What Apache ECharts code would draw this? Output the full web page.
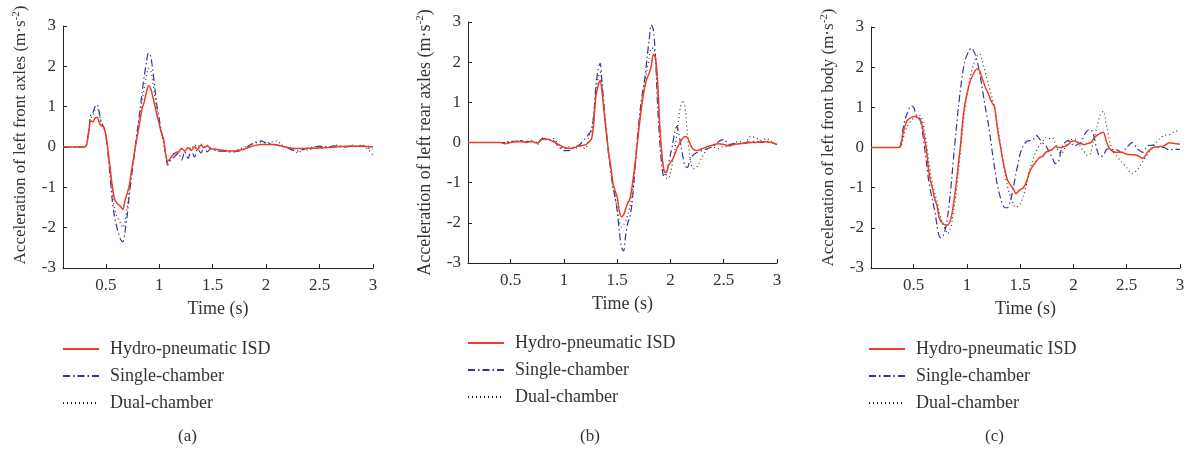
<!DOCTYPE html>
<html><head><meta charset="utf-8">
<script src="https://cdn.jsdelivr.net/npm/echarts@6/dist/echarts.min.js"></script>
<style>html,body{margin:0;padding:0;background:#fff}#c{width:1194px;height:453px}</style>
</head><body><div id="c"></div>
<script>
// ---------- Panel (a) ----------
const tA = [0.1,0.2,0.3,
 0.32,0.34,0.36,0.38,0.40,0.42,0.44,0.46,0.48,0.50,
 0.52,0.54,0.56,0.58,0.60,0.62,0.64,0.66,0.68,0.70,
 0.72,0.74,0.76,0.78,0.80,0.82,0.84,0.86,0.88,0.90,
 0.92,0.94,0.96,0.98,1.00,1.02,1.04,1.06,1.08,1.10,
 1.12,1.15,1.18,1.21,1.24,1.27,1.30,1.33,1.36,1.39,
 1.42,1.45,1.48,1.52,1.56,1.60,1.65,1.70,1.75,1.80,
 1.85,1.9,1.95,2.0,2.05,2.1,2.15,2.2,2.25,2.3,
 2.35,2.4,2.45,2.5,2.55,2.6,2.65,2.7,2.75,2.8,
 2.85,2.9,2.95,3.0];
const hydroA = [0,0,0,
 0.05,0.35,0.65,0.62,0.72,0.74,0.6,0.52,0.5,0.3,
 -0.05,-0.5,-0.95,-1.27,-1.38,-1.43,-1.48,-1.55,-1.33,-1.15,
 -0.95,-0.6,-0.28,0.05,0.35,0.65,0.95,1.12,1.35,1.52,
 1.45,1.25,1.02,0.78,0.58,0.35,0.2,-0.17,-0.35,-0.3,
 -0.22,-0.15,-0.12,-0.03,-0.1,-0.02,-0.08,0.0,-0.06,0.05,
 -0.02,0.03,-0.04,-0.05,-0.07,-0.08,-0.1,-0.1,-0.08,-0.05,
 0.0,0.04,0.06,0.06,0.06,0.05,0.02,-0.01,-0.03,-0.04,
 -0.04,-0.03,-0.03,-0.02,-0.02,-0.01,0.0,0.01,0.02,0.02,
 0.02,0.02,0.01,0.0];
const singleA = [0,0,0,
 0.05,0.4,0.8,0.85,1.0,1.05,0.85,0.6,0.5,0.3,
 -0.15,-0.7,-1.3,-1.7,-1.95,-2.15,-2.3,-2.35,-2.1,-1.7,
 -1.2,-0.75,-0.35,0.1,0.5,0.9,1.35,1.75,2.1,2.33,
 2.25,1.9,1.45,1.0,0.7,0.4,0.15,-0.15,-0.45,-0.35,
 -0.3,-0.22,-0.15,-0.32,-0.12,-0.28,-0.08,-0.25,-0.05,-0.15,
 0.0,-0.12,-0.05,-0.08,-0.1,-0.1,-0.12,-0.12,-0.1,-0.05,
 0.05,0.12,0.15,0.1,0.08,0.05,0.02,-0.02,-0.08,-0.1,
 -0.06,-0.02,0.0,0.02,0.0,0.01,0.03,0.02,0.0,0.03,
 0.02,0.03,-0.02,-0.05];
const dualA = [0,0,0,
 0.05,0.4,0.7,0.8,0.92,0.95,0.8,0.58,0.5,0.35,
 -0.1,-0.6,-1.1,-1.5,-1.7,-1.8,-1.9,-2.0,-1.85,-1.5,
 -1.05,-0.7,-0.3,0.05,0.45,0.8,1.15,1.45,1.75,1.95,
 1.9,1.6,1.25,0.9,0.6,0.35,0.1,-0.2,-0.4,-0.3,
 -0.22,-0.12,-0.15,-0.05,-0.12,0.0,-0.05,0.05,0.0,0.08,
 0.0,0.05,-0.02,-0.05,-0.1,-0.1,-0.12,-0.1,-0.05,0.0,
 0.05,0.1,0.12,0.1,0.12,0.15,0.05,0.0,-0.05,-0.15,
 -0.05,-0.08,0.0,-0.05,0.0,0.0,0.05,0.0,0.0,0.05,
 0.02,0.05,-0.05,-0.2];

// ---------- Panel (b) ----------
const tB = [0.1,0.2,0.3,0.4,0.45,0.5,0.55,0.6,0.65,0.7,
 0.75,0.8,0.85,0.9,0.95,1.0,1.05,1.1,1.15,1.2,
 1.23,1.26,1.28,1.3,1.32,1.34,1.36,1.38,1.4,1.42,
 1.44,1.46,1.48,1.5,1.52,1.54,1.56,1.58,1.6,1.62,
 1.64,1.66,1.68,1.7,1.72,1.74,1.76,1.78,1.8,1.82,
 1.84,1.86,1.88,1.9,1.92,1.94,1.96,1.98,2.0,2.02,
 2.04,2.06,2.08,2.1,2.12,2.14,2.16,2.18,2.2,2.22,
 2.25,2.3,2.35,2.4,2.45,2.5,2.55,2.6,2.65,2.7,
 2.75,2.8,2.85,2.9,2.95,3.0];
const hydroB = [0,0,0,0,-0.03,0,0.02,0.02,0.0,0.03,
 -0.02,0.08,0.08,0.02,-0.05,-0.12,-0.15,-0.12,-0.08,-0.06,
 0.0,0.1,0.5,1.15,1.4,1.55,1.2,0.7,0.2,-0.25,
 -0.6,-1.0,-1.2,-1.35,-1.7,-1.85,-1.8,-1.65,-1.5,-1.4,
 -1.1,-0.7,-0.25,0.25,0.7,1.1,1.4,1.6,1.72,1.9,
 2.2,2.1,1.5,0.4,-0.3,-0.7,-0.75,-0.58,-0.5,-0.42,
 -0.3,-0.15,-0.05,0.05,0.12,0.15,0.12,0.0,-0.12,-0.18,
 -0.2,-0.15,-0.1,-0.06,-0.03,-0.05,-0.08,-0.05,-0.03,-0.02,
 0.0,0.0,0.02,0.02,0.0,-0.05];
const singleB = [0,0,0,0,0.0,0.03,0.03,0.05,0.03,0.02,
 0.0,0.1,0.08,0.05,-0.1,-0.2,-0.2,-0.12,-0.05,0.1,
 0.2,0.3,0.7,1.4,1.8,1.97,1.4,0.8,0.25,-0.3,
 -0.7,-1.1,-1.35,-1.7,-2.2,-2.6,-2.7,-2.3,-2.0,-1.85,
 -1.5,-0.9,-0.2,0.4,0.9,1.3,1.6,2.1,2.55,2.93,
 2.8,2.1,0.9,0.0,-0.6,-0.85,-0.8,-0.55,-0.3,-0.05,
 0.25,0.4,0.2,-0.1,-0.4,-0.6,-0.62,-0.45,-0.35,-0.3,
 -0.25,-0.2,-0.15,-0.1,0.02,0.08,-0.05,-0.03,-0.03,0.0,
 0.02,0.03,0.0,0.02,0.0,-0.05];
const dualB = [0,0,0,0,0.0,0.02,0.02,0.05,0.0,0.05,
 -0.05,0.12,0.05,0.1,-0.05,-0.15,-0.1,-0.15,-0.1,-0.15,
 0.1,0.35,0.7,1.3,1.6,1.75,1.4,0.8,0.2,-0.3,
 -0.7,-1.1,-1.35,-1.65,-1.95,-2.1,-2.05,-1.95,-1.8,-1.6,
 -1.3,-0.85,-0.3,0.3,0.8,1.2,1.5,1.8,2.1,2.35,
 2.35,2.0,1.2,0.4,-0.3,-0.7,-0.88,-0.9,-0.75,-0.5,
 -0.2,0.2,0.65,0.95,1.05,0.8,0.2,-0.3,-0.6,-0.65,
 -0.6,-0.35,-0.15,-0.12,-0.15,-0.1,-0.1,0.0,0.02,0.0,
 0.15,0.12,0.05,0.1,0.02,-0.05];

// ---------- Panel (c) ----------
const tC = [0.1,0.2,0.3,0.36,0.38,0.4,0.42,0.44,0.46,0.48,
 0.5,0.52,0.54,0.56,0.58,0.6,0.62,0.64,0.66,0.68,
 0.7,0.72,0.74,0.76,0.78,0.8,0.82,0.84,0.86,0.88,
 0.9,0.92,0.94,0.96,0.98,1.0,1.02,1.04,1.06,1.08,
 1.1,1.12,1.14,1.16,1.18,1.2,1.22,1.24,1.26,1.28,
 1.3,1.32,1.34,1.36,1.38,1.4,1.42,1.44,1.46,1.48,
 1.5,1.53,1.56,1.59,1.62,1.65,1.68,1.71,1.74,1.77,
 1.8,1.83,1.86,1.89,1.92,1.95,1.98,2.01,2.04,2.07,
 2.1,2.13,2.16,2.19,2.22,2.25,2.28,2.31,2.34,2.37,
 2.4,2.45,2.5,2.55,2.6,2.65,2.7,2.75,2.8,2.85,
 2.9,2.95,3.0];
const hydroC = [0,0,0,0,0.05,0.35,0.55,0.67,0.72,0.75,
 0.77,0.77,0.74,0.68,0.55,0.25,-0.05,-0.55,-0.85,-1.05,
 -1.3,-1.45,-1.75,-1.85,-1.9,-1.93,-1.93,-1.85,-1.65,-1.3,
 -0.9,-0.4,0.05,0.65,1.05,1.32,1.55,1.72,1.83,1.92,
 1.96,1.9,1.75,1.6,1.45,1.35,1.2,1.1,1.0,0.6,
 0.25,-0.05,-0.35,-0.6,-0.8,-0.9,-0.97,-1.05,-1.15,-1.1,
 -1.05,-1.0,-0.85,-0.6,-0.45,-0.35,-0.25,-0.22,-0.12,-0.08,
 -0.05,0.02,0.0,0.0,0.03,0.07,0.15,0.17,0.12,0.1,
 0.07,0.1,0.12,0.22,0.3,0.35,0.38,0.15,-0.03,-0.1,
 -0.12,-0.12,-0.17,-0.18,-0.2,-0.27,-0.1,0.0,0.02,0.04,
 0.12,0.1,0.08];
const singleC = [0,0,0,0,0.08,0.45,0.7,0.85,0.98,1.04,
 1.0,0.85,0.75,0.72,0.45,0.05,-0.35,-0.8,-1.1,-1.35,
 -1.6,-1.95,-2.2,-2.25,-2.18,-2.0,-1.7,-1.25,-0.7,-0.1,
 0.45,1.0,1.45,1.85,2.15,2.3,2.4,2.48,2.42,2.3,
 2.1,1.85,1.55,1.2,0.9,0.6,0.25,-0.15,-0.5,-0.85,
 -1.1,-1.3,-1.45,-1.5,-1.5,-1.4,-1.2,-0.95,-0.65,-0.4,
 -0.15,0.05,0.15,0.17,0.2,0.3,0.22,0.12,0.05,-0.1,
 -0.25,-0.4,-0.35,0.0,0.12,0.18,0.1,0.04,0.08,0.12,
 0.3,0.42,0.45,0.3,-0.05,-0.22,-0.2,-0.05,-0.03,-0.05,
 -0.05,-0.12,0.0,0.12,-0.03,-0.12,0.05,0.06,0.0,0.0,
 -0.06,-0.04,-0.05];
const dualC = [0,0,0,0,0.02,0.2,0.4,0.52,0.6,0.68,
 0.72,0.75,0.78,0.8,0.7,0.45,0.1,-0.3,-0.65,-0.95,
 -1.15,-1.35,-1.6,-1.8,-1.95,-2.05,-2.15,-2.05,-1.85,-1.5,
 -1.1,-0.6,-0.1,0.45,0.95,1.3,1.6,1.85,2.05,2.2,
 2.3,2.33,2.2,2.0,1.8,1.6,1.4,1.2,1.0,0.7,
 0.35,0.0,-0.35,-0.7,-0.95,-1.15,-1.3,-1.42,-1.5,-1.45,
 -1.4,-1.2,-0.9,-0.55,-0.3,-0.1,0.05,0.15,0.25,0.22,
 0.25,0.1,-0.1,-0.15,0.0,0.15,0.2,0.22,0.15,0.0,
 -0.1,-0.2,-0.15,0.2,0.5,0.8,0.9,0.55,0.15,-0.1,
 -0.2,-0.35,-0.5,-0.65,-0.55,-0.35,-0.15,0.05,0.2,0.3,
 0.32,0.4,0.42];

const xTicks = [0.5,1,1.5,2,2.5,3];
const seriesNames = ['Hydro-pneumatic ISD','Single-chamber','Dual-chamber'];
const yTitles = ['Acceleration of left front axles','Acceleration of left rear axles','Acceleration of left front body'];
const captions = ['(a)','(b)','(c)'];

const FONT = '"Liberation Serif","Times New Roman",serif';
const RED = '#ee3d24', BLUE = '#34349a', BLACK = '#222';

const panels = [
  {t:tA, h:hydroA, s:singleA, d:dualA, grid:{left:63,top:26,width:310,height:242}, legend:{left:62,top:340}, cap:{x:190,y:437}, yGap:32, yFont:17, yShift:24},
  {t:tB, h:hydroB, s:singleB, d:dualB, grid:{left:468,top:22,width:309,height:241}, legend:{left:467,top:334}, cap:{x:592,y:437}, yGap:33, yFont:18, yShift:0},
  {t:tC, h:hydroC, s:singleC, d:dualC, grid:{left:871,top:27,width:309,height:241}, legend:{left:868,top:340}, cap:{x:997,y:437}, yGap:32, yFont:17, yShift:20}
];

const grid=[], xAxis=[], yAxis=[], series=[], legend=[], graphic=[];
panels.forEach((p,i)=>{
  grid.push(Object.assign({containLabel:false}, p.grid));
  xAxis.push({type:'value', gridIndex:i, min:0.1, max:3,
    name:'Time (s)', nameLocation:'middle', nameGap:32,
    nameTextStyle:{fontFamily:FONT, fontSize:18, color:'#333'},
    axisLine:{onZero:false, lineStyle:{color:'#222', width:1}},
    axisTick:{inside:true, length:4, customValues:xTicks, lineStyle:{color:'#222'}},
    axisLabel:{customValues:xTicks, fontFamily:FONT, fontSize:17, color:'#333', margin:9},
    splitLine:{show:false}});
  yAxis.push({type:'value', gridIndex:i, min:-3, max:3, interval:1,
    name:'{a|'+yTitles[i]+' (m·s}{s|-2}{a|)}', nameLocation:'middle', nameGap:p.yGap, nameRotate:90,
    nameTextStyle:{padding:[0,0,0,p.yShift], rich:{a:{fontFamily:FONT, fontSize:p.yFont, color:'#333'}, s:{fontFamily:FONT, fontSize:11, color:'#333', verticalAlign:'top', padding:[0,0,9,0]}}},
    axisLine:{onZero:false, lineStyle:{color:'#222', width:1}},
    axisTick:{inside:true, length:4, lineStyle:{color:'#222'}},
    axisLabel:{fontFamily:FONT, fontSize:17, color:'#333', margin:7},
    splitLine:{show:false}});
  const mk=(arr)=>p.t.map((t,k)=>[t,arr[k]]);
  series.push({name:seriesNames[2], type:'line', xAxisIndex:i, yAxisIndex:i, data:mk(p.d), symbol:'none', smooth:0.3,
    lineStyle:{color:BLACK, width:1.1, type:[1,3]}, itemStyle:{color:BLACK}, z:2});
  series.push({name:seriesNames[1], type:'line', xAxisIndex:i, yAxisIndex:i, data:mk(p.s), symbol:'none', smooth:0.3,
    lineStyle:{color:BLUE, width:1.2, type:[7,3,1.5,3]}, itemStyle:{color:BLUE}, z:3});
  series.push({name:seriesNames[0], type:'line', xAxisIndex:i, yAxisIndex:i, data:mk(p.h), symbol:'none', smooth:0.3,
    lineStyle:{color:RED, width:1.5}, itemStyle:{color:RED}, z:4});
  legend.push({data:seriesNames, orient:'vertical', left:p.legend.left, top:p.legend.top, padding:0,
    itemWidth:36, itemHeight:14, itemGap:9, selectedMode:false,
    itemStyle:{opacity:0, borderWidth:0},
    textStyle:{fontFamily:FONT, fontSize:18, color:'#333', lineHeight:18, padding:[0,0,0,6]}});
  graphic.push({type:'text', left:p.cap.x-12, top:p.cap.y-9, style:{text:captions[i], font:'17px '+FONT, fill:'#333'}});
});

const chart = echarts.init(document.getElementById('c'));
chart.setOption({animation:false, backgroundColor:'#fff', grid, xAxis, yAxis, series, legend, graphic});
</script></body></html>
